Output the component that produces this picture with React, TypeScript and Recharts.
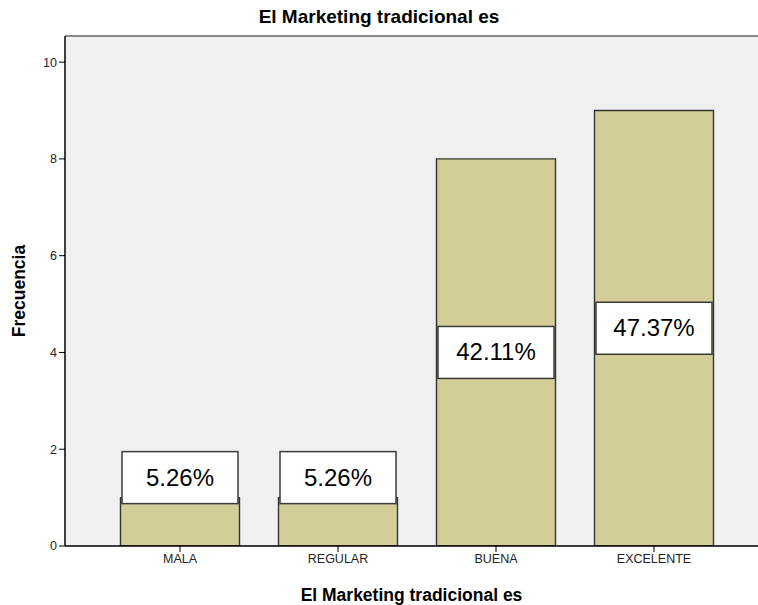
import React from "react";
import { BarChart, Bar, XAxis, YAxis, CartesianGrid, LabelList, ReferenceLine } from "recharts";

const categories = ["MALA", "REGULAR", "BUENA", "EXCELENTE"];
const frecuencia = [1, 1, 8, 9];
const porcentaje = ["5.26%", "5.26%", "42.11%", "47.37%"];
const yTicks = [0, 2, 4, 6, 8, 10];
const yMax = 10.54;

const data = categories.map((c, i) => ({ name: c, value: frecuencia[i], pct: porcentaje[i] }));

const FONT = "Arial, 'Liberation Sans', sans-serif";

// white percentage box, centred on the bar; small bars get it pushed above the top
function PctBox(props: any) {
  const { x, y, width, height, index } = props;
  const boxW = 116;
  const boxH = 52;
  const cx = x + width / 2;
  const cy = height > 100 ? y + height / 2 : y - 20;
  return (
    <g>
      <rect x={cx - boxW / 2} y={cy - boxH / 2} width={boxW} height={boxH} fill="#ffffff" stroke="#3a3a3a" strokeWidth={1.5} />
      <text x={cx} y={cy + 8} textAnchor="middle" fontFamily={FONT} fontSize={24} fill="#000">
        {data[index].pct}
      </text>
    </g>
  );
}

export default function App() {
  return (
    <div style={{ position: "absolute", left: 0, top: 0, width: 758, height: 605, background: "#fff" }}>
      <div
        style={{
          position: "absolute",
          top: 6,
          left: 0,
          width: 758,
          textAlign: "center",
          fontFamily: FONT,
          fontWeight: "bold",
          fontSize: 19,
          color: "#000",
        }}
      >
        El Marketing tradicional es
      </div>
      <BarChart
        width={758}
        height={605}
        data={data}
        margin={{ top: 36, right: 0, bottom: 0, left: 0 }}
        barCategoryGap={19.5}
      >
        <CartesianGrid fill="#f0f0f0" horizontal={false} vertical={false} />
        <ReferenceLine y={yMax} stroke="#8a8a8a" strokeWidth={2} />
        <XAxis
          dataKey="name"
          height={59}
          padding={{ left: 36, right: 25 }}
          axisLine={{ stroke: "#000", strokeWidth: 1.5 }}
          tickLine={{ stroke: "#000" }}
          tickSize={6}
          tick={{ fontFamily: FONT, fontSize: 12.5, fill: "#222" }}
          label={{ value: "El Marketing tradicional es", position: "insideBottom", offset: 4, fontFamily: FONT, fontWeight: "bold", fontSize: 17.5, fill: "#000" }}
        />
        <YAxis
          width={65}
          domain={[0, yMax]}
          ticks={yTicks}
          allowDataOverflow
          axisLine={{ stroke: "#000", strokeWidth: 1.5 }}
          tickLine={{ stroke: "#000" }}
          tickSize={6}
          tick={{ fontFamily: FONT, fontSize: 12.5, fill: "#222" }}
          label={{ value: "Frecuencia", angle: -90, position: "center", dx: -14, fontFamily: FONT, fontWeight: "bold", fontSize: 17.5, fill: "#000" }}
        />
        <Bar dataKey="value" fill="#d3ce97" stroke="#333" strokeWidth={1.4} isAnimationActive={false}>
          <LabelList dataKey="pct" content={PctBox} />
        </Bar>
      </BarChart>
    </div>
  );
}
